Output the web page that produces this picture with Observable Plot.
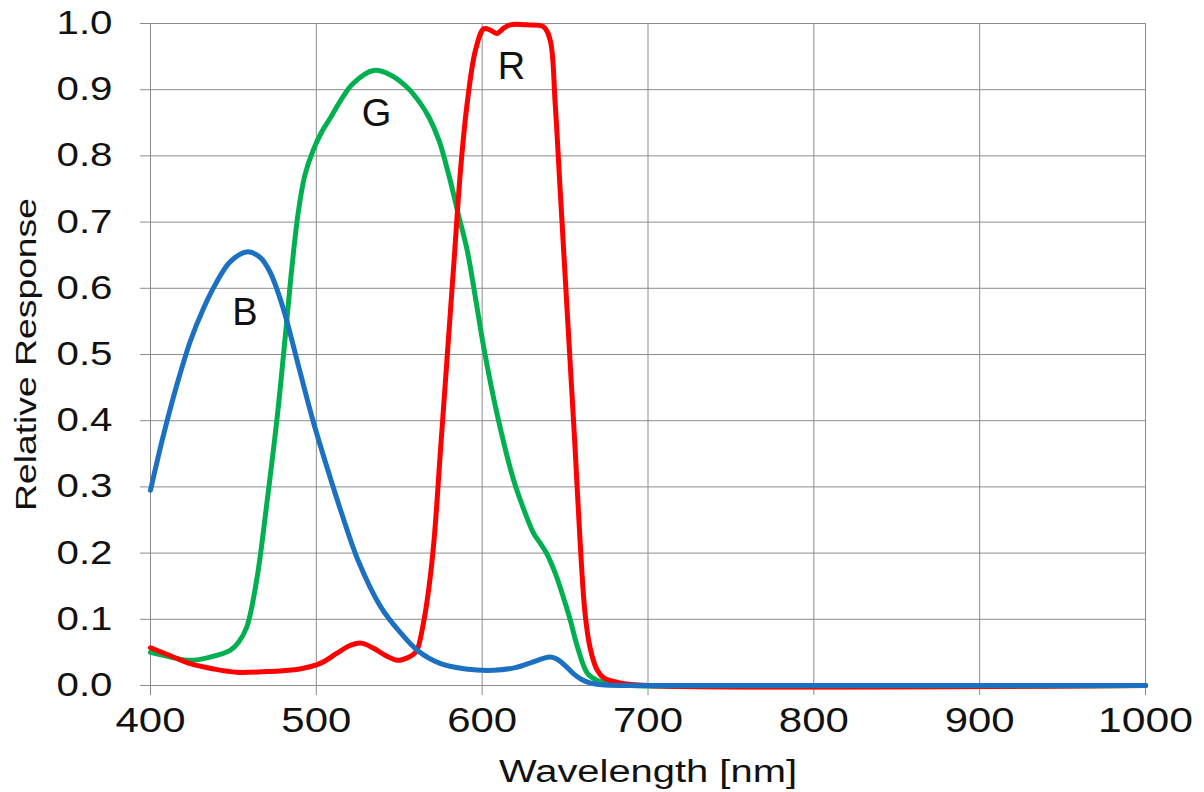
<!DOCTYPE html>
<html><head><meta charset="utf-8">
<script src="https://cdn.jsdelivr.net/npm/d3@7"></script>
<script src="https://cdn.jsdelivr.net/npm/@observablehq/plot@0.6"></script>
<style>
html,body{margin:0;padding:0;background:#fff;}
#chart{width:1204px;height:792px;}
</style></head><body><div id="chart"></div>
<script>
// Tick values
const xTicks = [400, 500, 600, 700, 800, 900, 1000];
const yTicks = [0, 0.1, 0.2, 0.3, 0.4, 0.5, 0.6, 0.7, 0.8, 0.9, 1.0];
const xTitle = "Wavelength [nm]";
const yTitle = "Relative Response";

// Blue channel
const blueWl = [400,408,416,424,432,440,448,458,466,472,480,489,498,507,515,525,539,551,561,575,590,607,620,630,637,641,645,650,655,660,665,672,690,800,900,1000];
const blueV  = [0.295,0.38,0.455,0.52,0.57,0.61,0.64,0.655,0.647,0.625,0.57,0.485,0.40,0.325,0.262,0.19,0.118,0.079,0.053,0.033,0.025,0.023,0.027,0.035,0.041,0.043,0.040,0.030,0.018,0.009,0.004,0.001,0,0,0,0];

// Green channel
const greenWl = [400,412,424,436,448,453,458,464,470.6,476.6,482.6,485,489,493,498,503,508.6,515,522,534.5,545,555,562,568,574,580,586,591,596,601,609,619,626,631,635,639,644,649,653,657.5,663.6,670,676,690,1000];
const greenV  = [0.05,0.043,0.038,0.043,0.053,0.065,0.088,0.159,0.284,0.41,0.562,0.625,0.713,0.77,0.808,0.835,0.858,0.885,0.909,0.929,0.922,0.903,0.882,0.858,0.823,0.77,0.708,0.657,0.585,0.51,0.41,0.31,0.26,0.23,0.215,0.199,0.17,0.133,0.10,0.058,0.018,0.007,0.003,0,0];

// Red channel
const redWl = [400,412,424,438,452,470,490,502,512,520,527,534,542,549,555,559,561,565,568,571,575,579,583,587,591,596,601,605,609,613,617,627,637,641,644,647,650,653,656,659,662,665,669,673,683,700,1000];
const redV  = [0.057,0.045,0.033,0.025,0.02,0.021,0.025,0.033,0.048,0.06,0.064,0.057,0.045,0.038,0.042,0.048,0.055,0.10,0.15,0.22,0.36,0.50,0.64,0.78,0.88,0.96,0.992,0.99,0.985,0.993,0.998,0.998,0.995,0.975,0.88,0.75,0.62,0.49,0.36,0.22,0.11,0.058,0.025,0.012,0.004,0,0];

// Series labels
const labelNames = ["B", "G", "R"];
const labelWl = [457, 536.3, 617.7];
const labelV = [0.563, 0.864, 0.934];

const colors = {B: "#1b70c2", G: "#00b050", R: "#ff0000"};

const toRows = (wl, v) => wl.map((w, i) => ({wl: w, v: v[i]}));
const labels = labelNames.map((n, i) => ({name: n, wl: labelWl[i], v: labelV[i]}));

const font = "'Liberation Sans', Arial, Helvetica, sans-serif";
const gridColor = "#8c8c8c";

const plot = Plot.plot({
  width: 1204,
  height: 792,
  marginLeft: 150,
  marginRight: 59,
  marginTop: 23,
  marginBottom: 107,
  style: {fontFamily: font, background: "#fff", color: "#111"},
  x: {domain: [400, 1000]},
  y: {domain: [0, 1]},
  marks: [
    Plot.gridX(xTicks, {stroke: gridColor, strokeOpacity: 1, strokeWidth: 1}),
    Plot.gridY(yTicks, {stroke: gridColor, strokeOpacity: 1, strokeWidth: 1}),
    Plot.axisX(xTicks, {tickSize: 10, tickPadding: 12, fontSize: 35, stroke: gridColor, fill: "#111",
      label: xTitle, labelAnchor: "center", labelOffset: 96, tickFormat: d => String(d)}),
    Plot.axisY(yTicks, {tickSize: 10, tickPadding: 28, fontSize: 33, stroke: gridColor, fill: "#111",
      tickFormat: d3.format(".1f"),
      label: yTitle, labelAnchor: "center", labelOffset: 136}),
    Plot.line(toRows(greenWl, greenV), {x: "wl", y: "v", stroke: colors.G, strokeWidth: 5, curve: "catmull-rom"}),
    Plot.line(toRows(redWl, redV), {x: "wl", y: "v", stroke: colors.R, strokeWidth: 5, curve: "catmull-rom"}),
    Plot.line(toRows(blueWl, blueV), {x: "wl", y: "v", stroke: colors.B, strokeWidth: 5, curve: "catmull-rom"}),
    Plot.text(labels, {x: "wl", y: "v", text: "name", fontSize: 38, fill: "#111", fontFamily: font})
  ]
});

const s = d3.select(plot);
s.selectAll('g[aria-label="y-axis tick label"] text')
  .attr("textLength", 56).attr("lengthAdjust", "spacingAndGlyphs");
s.selectAll('g[aria-label="x-axis tick label"] text').each(function() {
  const t = this.textContent;
  d3.select(this).attr("textLength", t.length === 4 ? 95 : 70).attr("lengthAdjust", "spacingAndGlyphs");
});
s.selectAll('g[aria-label="x-axis label"] text').text(xTitle)
  .attr("font-size", 31).attr("textLength", 298).attr("lengthAdjust", "spacingAndGlyphs");
s.selectAll('g[aria-label="y-axis label"] text').text(yTitle)
  .attr("font-size", 30).attr("textLength", 313).attr("lengthAdjust", "spacingAndGlyphs");

document.getElementById("chart").appendChild(plot);
</script></body></html>
